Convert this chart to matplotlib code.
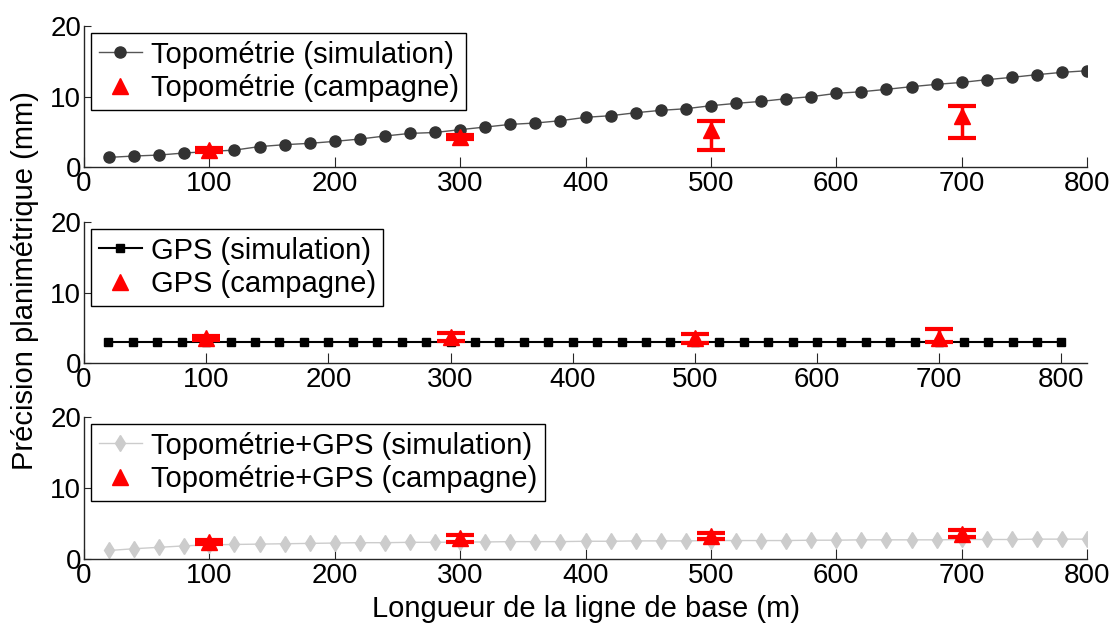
import matplotlib.pyplot as plt

plt.rcParams['font.family'] = ['Liberation Sans', 'DejaVu Sans']

# baseline lengths (m)
x_sim = list(range(20, 801, 20))
x_camp = [100, 300, 500, 700]

# simulated planimetric precision (mm)
topo_sim = [1.37, 1.56, 1.70, 1.99, 2.20, 2.40, 2.90, 3.17, 3.36, 3.64,
            3.97, 4.40, 4.77, 4.90, 5.30, 5.67, 6.05, 6.24, 6.57, 7.05,
            7.28, 7.70, 8.04, 8.27, 8.70, 9.03, 9.31, 9.69, 9.98, 10.45,
            10.68, 11.02, 11.40, 11.73, 12.00, 12.39, 12.72, 13.10, 13.43, 13.66]
gps_sim = [3.0, 3.0, 3.0, 3.0, 3.0, 3.0, 3.0, 3.0, 3.0, 3.0,
           3.0, 3.0, 3.0, 3.0, 3.0, 3.0, 3.0, 3.0, 3.0, 3.0,
           3.0, 3.0, 3.0, 3.0, 3.0, 3.0, 3.0, 3.0, 3.0, 3.0,
           3.0, 3.0, 3.0, 3.0, 3.0, 3.0, 3.0, 3.0, 3.0, 3.0]
mix_sim = [1.20, 1.45, 1.65, 1.85, 2.00, 2.05, 2.10, 2.15, 2.20, 2.25,
           2.30, 2.30, 2.35, 2.35, 2.40, 2.40, 2.45, 2.45, 2.45, 2.50,
           2.50, 2.55, 2.55, 2.55, 2.60, 2.60, 2.60, 2.60, 2.65, 2.65,
           2.70, 2.70, 2.70, 2.70, 2.75, 2.75, 2.75, 2.80, 2.80, 2.80]

# field campaign values with lower / upper error
topo_camp = [2.4, 4.3, 5.2, 7.2]
topo_low = [0.3, 0.3, 2.8, 3.1]
topo_up = [0.3, 0.3, 1.3, 1.5]

gps_camp = [3.6, 3.7, 3.5, 3.6]
gps_low = [0.3, 0.55, 0.6, 0.6]
gps_up = [0.3, 0.55, 0.6, 1.2]

mix_camp = [2.35, 2.9, 3.25, 3.55]
mix_low = [0.3, 0.5, 0.45, 0.5]
mix_up = [0.3, 0.5, 0.45, 0.5]


def style_axes(ax, xmax):
    ax.set_xlim(0, xmax)
    ax.set_ylim(0, 20)
    ax.set_xticks(range(0, 801, 100))
    ax.set_yticks([0, 10, 20])
    ax.spines['top'].set_visible(False)
    ax.spines['right'].set_visible(False)
    for s in ('left', 'bottom'):
        ax.spines[s].set_color('#262626')
        ax.spines[s].set_linewidth(1.0)
    ax.tick_params(axis='both', direction='in', labelsize=20, colors='#262626',
                   labelcolor='black', pad=3)
    ax.tick_params(axis='x', length=7)
    ax.tick_params(axis='y', length=5, pad=2)


def campaign(ax, y, low, up, label):
    ax.errorbar(x_camp, y, yerr=[low, up], fmt='none', ecolor='red',
                elinewidth=2.5, capsize=10, capthick=3, zorder=3)
    ax.plot(x_camp, y, '^', color='red', ms=12, label=label, zorder=4)


def legend(ax):
    ax.legend(loc='upper left', bbox_to_anchor=(0, 1), borderaxespad=0.25,
              fontsize=21, frameon=True, fancybox=False, framealpha=1,
              edgecolor='black', handlelength=1.5, handletextpad=0.3,
              labelspacing=0.2, borderpad=0.25)


fig = plt.figure(figsize=(11.14, 6.23), dpi=100)
ax1 = fig.add_axes([0.0754, 0.7319, 0.9004, 0.2263])
ax2 = fig.add_axes([0.0754, 0.4173, 0.9004, 0.2263])
ax3 = fig.add_axes([0.0754, 0.1027, 0.9004, 0.2280])

ax1.plot(x_sim, topo_sim, '-o', color='#555555', mfc='#333333', mec='#333333',
         ms=8, lw=1.0, label='Topométrie (simulation)')
campaign(ax1, topo_camp, topo_low, topo_up, 'Topométrie (campagne)')
style_axes(ax1, 800)
legend(ax1)

ax2.plot(x_sim, gps_sim, '-s', color='black', ms=6, lw=1.5,
         label='GPS (simulation)')
campaign(ax2, gps_camp, gps_low, gps_up, 'GPS (campagne)')
style_axes(ax2, 821)
legend(ax2)

ax3.plot(x_sim, mix_sim, '-d', color='#cccccc', ms=8, lw=1.0,
         label='Topométrie+GPS (simulation)')
campaign(ax3, mix_camp, mix_low, mix_up, 'Topométrie+GPS (campagne)')
style_axes(ax3, 800)
legend(ax3)
ax3.set_xlabel('Longueur de la ligne de base (m)', fontsize=21, labelpad=4)

fig.text(0.022, 0.55, 'Précision planimétrique (mm)', rotation=90,
         ha='center', va='center', fontsize=21)

fig.savefig('out.png', dpi=100)
